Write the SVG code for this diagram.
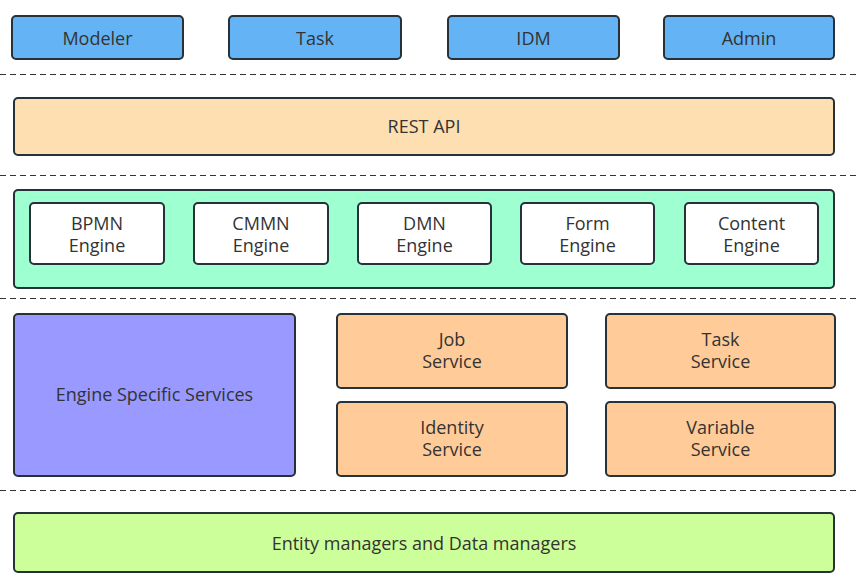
<svg xmlns="http://www.w3.org/2000/svg" width="866" height="583" viewBox="0 0 866 583">
<style>
rect{stroke:#263238;stroke-width:2}
text{font-family:"Open Sans","Noto Sans","DejaVu Sans",sans-serif;font-size:18px;fill:#333;text-anchor:middle}
.sep{stroke:#333;stroke-width:1.2;stroke-dasharray:6 4;fill:none}
.app{fill:#63B3F5}
.eng{fill:#fff}
.svc{fill:#FFCC99}
</style>
<g id="separators">
<line class="sep" x1="0" y1="74.5" x2="856" y2="74.5"/>
<line class="sep" x1="0" y1="175.5" x2="856" y2="175.5"/>
<line class="sep" x1="0" y1="298.5" x2="856" y2="298.5"/>
<line class="sep" x1="0" y1="490.5" x2="856" y2="490.5"/>
</g>
<g id="modeler"><rect class="app" x="12" y="16" width="171" height="43" rx="4"/><text x="97.5" y="45">Modeler</text></g>
<g id="task"><rect class="app" x="229" y="16" width="172" height="43" rx="4"/><text x="315" y="45">Task</text></g>
<g id="idm"><rect class="app" x="448" y="16" width="171" height="43" rx="4"/><text x="533.5" y="45">IDM</text></g>
<g id="admin"><rect class="app" x="664" y="16" width="170" height="43" rx="4"/><text x="749" y="45">Admin</text></g>
<g id="rest"><rect x="14" y="98" width="820" height="57" rx="4" fill="#FDDFB1"/><text x="424" y="133">REST API</text></g>
<g id="engines"><rect x="14" y="190" width="820" height="98" rx="4" fill="#9EFFD0"/></g>
<g id="bpmn"><rect class="eng" x="30" y="203" width="134" height="61" rx="4"/><text x="97" y="230">BPMN</text><text x="97" y="252">Engine</text></g>
<g id="cmmn"><rect class="eng" x="194" y="203" width="134" height="61" rx="4"/><text x="261" y="230">CMMN</text><text x="261" y="252">Engine</text></g>
<g id="dmn"><rect class="eng" x="358" y="203" width="133" height="61" rx="4"/><text x="424.5" y="230">DMN</text><text x="424.5" y="252">Engine</text></g>
<g id="form"><rect class="eng" x="521" y="203" width="133" height="61" rx="4"/><text x="587.5" y="230">Form</text><text x="587.5" y="252">Engine</text></g>
<g id="content"><rect class="eng" x="685" y="203" width="133" height="61" rx="4"/><text x="751.5" y="230">Content</text><text x="751.5" y="252">Engine</text></g>
<g id="ess"><rect x="14" y="314" width="281" height="162" rx="4" fill="#9999FF"/><text x="154.5" y="401">Engine Specific Services</text></g>
<g id="job"><rect class="svc" x="337" y="314" width="230" height="74" rx="4"/><text x="452" y="346">Job</text><text x="452" y="368">Service</text></g>
<g id="taskservice"><rect class="svc" x="606" y="314" width="229" height="74" rx="4"/><text x="720.5" y="346">Task</text><text x="720.5" y="368">Service</text></g>
<g id="identity"><rect class="svc" x="337" y="402" width="230" height="74" rx="4"/><text x="452" y="434">Identity</text><text x="452" y="456">Service</text></g>
<g id="variable"><rect class="svc" x="606" y="402" width="229" height="74" rx="4"/><text x="720.5" y="434">Variable</text><text x="720.5" y="456">Service</text></g>
<g id="entity"><rect x="14" y="513" width="820" height="59" rx="4" fill="#CCFF99"/><text x="424" y="550">Entity managers and Data managers</text></g>
</svg>
